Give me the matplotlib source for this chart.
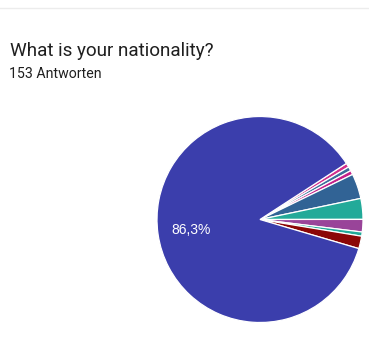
import matplotlib
matplotlib.use("Agg")
import matplotlib.pyplot as plt
from matplotlib.lines import Line2D

# Antworten pro Nationalität (153 gesamt)
counts = [1, 1, 1, 6, 5, 3, 1, 3, 132]
colors = ['#d2308c', '#3a6d9a', '#c42089', '#316395', '#22aa99',
          '#994499', '#22aa99', '#8b0707', '#3b3eac']
title = "What is your nationality?"
subtitle = "153 Antworten"

W, H = 369, 360
fig = plt.figure(figsize=(W / 100, H / 100), dpi=100)
fig.patch.set_facecolor('white')

# dünne graue Linie oben
fig.add_artist(Line2D([0, 1], [1 - 7.5 / H, 1 - 7.5 / H], transform=fig.transFigure,
                      color='#ececec', linewidth=1))

fig.text(10 / W, 1 - 55.5 / H, title, fontsize=13.6, family='Roboto', color='#1f1f1f')
fig.text(9 / W, 1 - 77.5 / H, subtitle, fontsize=10.2, family='Roboto', color='#1f1f1f')

# Kreis: Mittelpunkt (260, 219.5) px, Radius 103 px
cx, cy, r = 260, 219.5, 103
ax = fig.add_axes([(cx - r) / W, 1 - (cy + r) / H, 2 * r / W, 2 * r / H])


def fmt(p):
    if p < 10:
        return ''
    return f"{p:.1f}".replace('.', ',') + '%'


wedges, texts, autotexts = ax.pie(
    counts, colors=colors, startangle=33.0, counterclock=False,
    autopct=fmt, pctdistance=0.68, radius=1,
    wedgeprops=dict(edgecolor='white', linewidth=0.9),
    textprops=dict(color='white', fontsize=10, family='Liberation Sans'))
ax.set_xlim(-1, 1)
ax.set_ylim(-1, 1)
ax.axis('off')

fig.savefig('out.png', dpi=100, facecolor='white')
